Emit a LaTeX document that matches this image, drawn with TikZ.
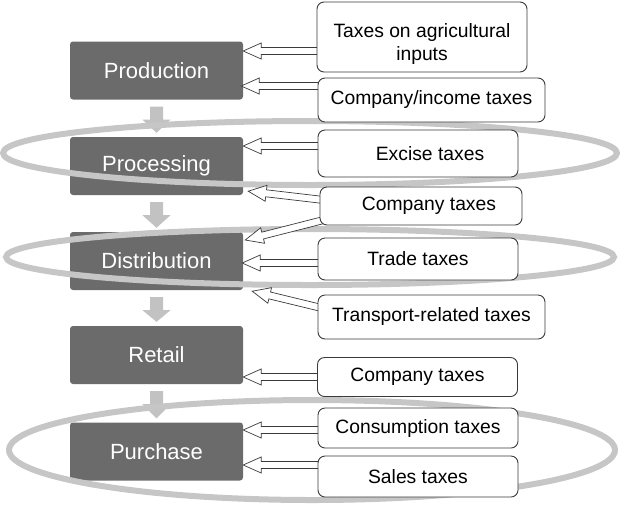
\documentclass[tikz,border=0pt]{standalone}
\usepackage{fontspec}
\setmainfont{Liberation Sans}
\usetikzlibrary{calc}
\pgfdeclarelayer{lstage}
\pgfdeclarelayer{lring}
\pgfdeclarelayer{larrow}
\pgfsetlayers{lstage,lring,larrow,main}

\definecolor{stage}{HTML}{6B6B6B}
\definecolor{ring}{HTML}{C6C6C6}
\definecolor{flow}{HTML}{C2C2C2}
\definecolor{edge}{HTML}{3A3A3A}

\tikzset{
  stagebox/.style={fill=stage, rounded corners=3pt, minimum width=173pt, minimum height=58pt,
    inner sep=0pt, text=white, font=\fontsize{22}{26}\selectfont},
  taxbox/.style={draw=edge, line width=0.9pt, fill=white, rounded corners=7pt, inner sep=0pt,
    font=\fontsize{19.3}{23}\selectfont, align=center},
  ringline/.style={draw=ring, line width=6pt},
  harrow/.style={draw=edge, line width=0.7pt, fill=white, line join=miter},
  downflow/.style={fill=flow}
}

\newcommand\hollowarrow[2]{%
  \path (#1) coordinate (ha-s) (#2) coordinate (ha-e);
  \path ($(ha-e)!18pt!(ha-s)$) coordinate (ha-b);
  \draw[harrow] (ha-e) -- ($(ha-b)!8pt!90:(ha-s)$) -- ($(ha-b)!3.5pt!90:(ha-s)$)
    -- ($(ha-s)!3.5pt!-90:(ha-e)$) -- ($(ha-s)!3.5pt!90:(ha-e)$)
    -- ($(ha-b)!3.5pt!-90:(ha-s)$) -- ($(ha-b)!8pt!-90:(ha-s)$) -- cycle;
}
\newcommand\flowdown[2]{%
  \fill[downflow] ($(#1.south)+(-6.5,7)$) -- ($(#1.south)+(6.5,7)$) -- ($(#1.south)+(6.5,20)$)
    -- ($(#1.south)+(14,20)$) -- ($(#2.north)+(0,-4)$) -- ($(#1.south)+(-14,20)$)
    -- ($(#1.south)+(-6.5,20)$) -- cycle;
}

\begin{document}
\begin{tikzpicture}[x=1pt,y=-1pt]
\useasboundingbox (0,0) rectangle (620,507);

% stages
\begin{pgfonlayer}{lstage}
\node[stagebox] (prod)   at (156.5,70.5) {Production};
\node[stagebox] (proc)   at (156.5,166)  {Processing};
\node[stagebox] (dist)   at (156.5,261)  {Distribution};
\node[stagebox] (retail) at (156.5,355)  {Retail};
\node[stagebox] (purch)  at (156.5,451.5){Purchase};
\flowdown{prod}{proc}
\flowdown{proc}{dist}
\flowdown{dist}{retail}
\flowdown{retail}{purch}
\end{pgfonlayer}

% rings
\begin{pgfonlayer}{lring}
\draw[ringline] (310,153) ellipse [x radius=307pt, y radius=32pt];
\draw[ringline] (310,257) ellipse [x radius=304pt, y radius=28pt];
\draw[ringline] (312,450) ellipse [x radius=303pt, y radius=50pt];
\end{pgfonlayer}

% tax boxes
\node[taxbox, minimum width=210pt, minimum height=70pt] (agri)  at (422,37) {\rule{0pt}{28pt}Taxes on agricultural\\inputs};
\node[taxbox, minimum width=227pt, minimum height=44pt] (cinc)  at (431.5,100)  {Company/income taxes};
\node[taxbox, minimum width=200pt, minimum height=47pt] (exc)   at (418,153.5)  {\hspace*{24pt}Excise taxes};
\node[taxbox, minimum width=202pt, minimum height=38pt] (compa) at (421,206)    {\hspace*{16pt}Company taxes};
\node[taxbox, minimum width=200pt, minimum height=42pt] (trade) at (418,259)    {Trade taxes};
\node[taxbox, minimum width=227pt, minimum height=44pt] (trans) at (431.5,317)  {Transport-related taxes};
\node[taxbox, minimum width=200pt, minimum height=39pt] (compb) at (417.5,377)  {Company taxes};
\node[taxbox, minimum width=200pt, minimum height=40pt] (cons)  at (418,428)    {Consumption taxes};
\node[taxbox, minimum width=200pt, minimum height=41pt] (sales) at (418,476.5)  {Sales taxes};

% hollow arrows
\begin{pgfonlayer}{larrow}
\hollowarrow{$(agri.west)+(4,14)$}{$(prod.east)+(0,-19.5)$}
\hollowarrow{$(cinc.west)+(4,-14)$}{$(prod.east)+(-2,15.5)$}
\hollowarrow{$(exc.west)+(4,-7.5)$}{$(proc.east)+(0,-20)$}
\hollowarrow{$(compa.west)+(4,-6)$}{$(proc.south east)+(5,-4)$}
\hollowarrow{$(compa.west)+(4,14)$}{$(dist.east)+(2,-21)$}
\hollowarrow{$(trade.west)+(4,4)$}{$(dist.east)+(-1,2)$}
\hollowarrow{$(trans.west)+(4,-9)$}{$(dist.south east)+(9,1)$}
\hollowarrow{$(compb.west)+(4,0)$}{$(retail.east)+(0,22)$}
\hollowarrow{$(cons.west)+(4,2)$}{$(purch.east)+(0,-21.5)$}
\hollowarrow{$(sales.west)+(4,-11.5)$}{$(purch.east)+(0,13.5)$}
\end{pgfonlayer}
\end{tikzpicture}
\end{document}
